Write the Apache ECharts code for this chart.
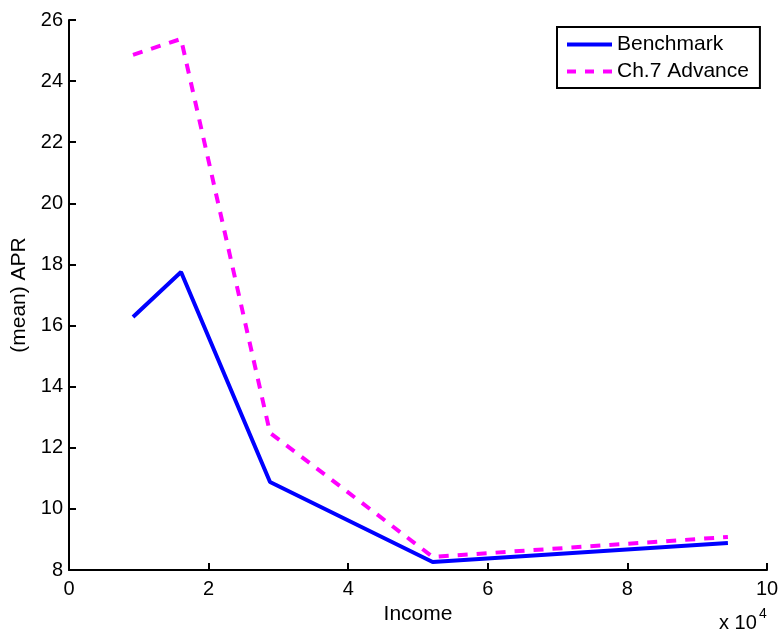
<!DOCTYPE html>
<html>
<head>
<meta charset="utf-8">
<script src="https://cdn.jsdelivr.net/npm/echarts@6/dist/echarts.min.js"></script>
<style>
  html, body { margin: 0; padding: 0; background: #fff; }
  #chart { width: 782px; height: 630px; }
</style>
</head>
<body>
<div id="chart"></div>
<script>
// Income points (dollars) and mean APR for each scenario
const incomeValues = [9170, 16050, 28800, 52100, 94400];
const benchmarkApr = [16.28, 17.75, 10.88, 8.26, 8.88];
const advanceApr = [24.86, 25.38, 12.49, 8.43, 9.08];
const seriesNames = ['Benchmark', 'Ch.7 Advance'];
const xTickScale = 10000;

const FONT = 'Liberation Sans, Arial, Helvetica, sans-serif';

const pairs = (xs, ys) => xs.map((x, i) => [x, ys[i]]);

const chart = echarts.init(document.getElementById('chart'), null, { renderer: 'canvas' });

const axisCommon = {
  axisLine: { show: true, lineStyle: { color: '#000', width: 2 } },
  axisTick: { show: true, inside: true, length: 7, lineStyle: { color: '#000', width: 2 } },
  splitLine: { show: false },
  nameTextStyle: { color: '#000', fontSize: 21, fontFamily: FONT }
};
const tickLabel = { color: '#000', fontSize: 20, fontFamily: FONT };

// legend swatches: a solid bar and a dashed bar
const solidIcon = 'path://M0,0H45V4H0Z';
const dashedIcon = 'path://M0,0H9V4H0Z M18,0H27V4H18Z M36,0H45V4H36Z';

chart.setOption({
  animation: false,
  backgroundColor: '#fff',
  grid: { left: 69, right: 15, top: 20, bottom: 60, containLabel: false },
  xAxis: Object.assign({}, axisCommon, {
    type: 'value',
    min: 0, max: 100000, interval: 20000,
    name: 'Income', nameLocation: 'middle', nameGap: 31,
    axisLabel: Object.assign({}, tickLabel, {
      margin: 9,
      formatter: v => String(v / xTickScale)
    })
  }),
  yAxis: Object.assign({}, axisCommon, {
    type: 'value',
    min: 8, max: 26, interval: 2,
    name: '(mean) APR', nameLocation: 'middle', nameGap: 36,
    axisLabel: Object.assign({}, tickLabel, { margin: 6 })
  }),
  legend: {
    orient: 'vertical',
    left: 557, top: 27,
    backgroundColor: '#fff',
    borderColor: '#000', borderWidth: 2, borderRadius: 0,
    padding: [7, 11, 6, 10],
    itemGap: 6,
    itemWidth: 45, itemHeight: 4,
    textStyle: { color: '#000', fontSize: 21, fontFamily: FONT, lineHeight: 21 },
    data: [
      { name: seriesNames[0], icon: solidIcon, itemStyle: { color: '#0000ff', borderWidth: 0 } },
      { name: seriesNames[1], icon: dashedIcon, itemStyle: { color: '#ff00ff', borderWidth: 0 } }
    ]
  },
  series: [
    {
      name: seriesNames[0], type: 'line',
      data: pairs(incomeValues, benchmarkApr),
      symbol: 'none', showSymbol: false,
      color: '#0000ff',
      lineStyle: { color: '#0000ff', width: 4, type: 'solid' },
      z: 3
    },
    {
      name: seriesNames[1], type: 'line',
      data: pairs(incomeValues, advanceApr),
      symbol: 'none', showSymbol: false,
      color: '#ff00ff',
      lineStyle: { color: '#ff00ff', width: 4, type: [10, 9] },
      z: 2
    }
  ],
  graphic: [
    {
      type: 'text', x: 719, y: 633,
      style: { text: 'x 10', fontSize: 20, fontFamily: FONT, fill: '#000', align: 'left', verticalAlign: 'bottom' }
    },
    {
      type: 'text', x: 759, y: 607,
      style: { text: '4', fontSize: 14, fontFamily: FONT, fill: '#000', align: 'left', verticalAlign: 'top' }
    }
  ]
});
</script>
</body>
</html>
